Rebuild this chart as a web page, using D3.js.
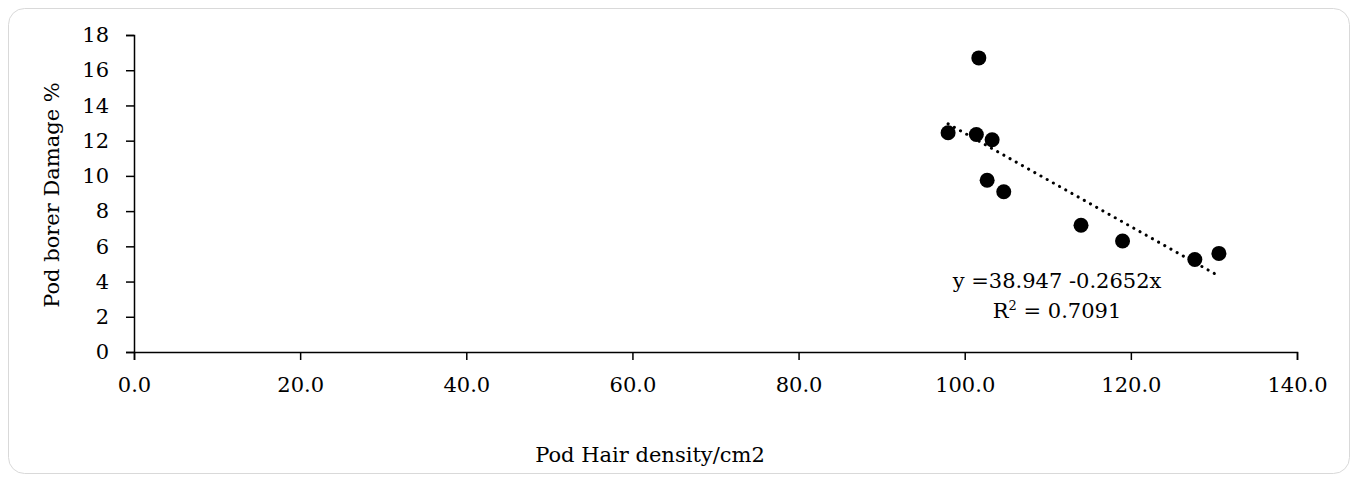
<!DOCTYPE html>
<html>
<head>
<meta charset="utf-8">
<script src="https://cdn.jsdelivr.net/npm/d3@7"></script>
<style>
  body { margin: 0; background: #fff; }
  svg text { font-family: "DejaVu Serif", serif; fill: #000; }
</style>
</head>
<body>
<svg id="chart" width="1359" height="481"></svg>
<script>
// Pod hair density (x) vs pod borer damage (y)
var hairDensity = [98.0, 101.7, 101.4, 103.3, 102.7, 104.7, 114.0, 119.0, 127.7, 130.6];
var borerDamage = [12.45, 16.7, 12.35, 12.05, 9.75, 9.1, 7.2, 6.3, 5.25, 5.6];

var xTicks = [0, 20, 40, 60, 80, 100, 120, 140];
var yTicks = [0, 2, 4, 6, 8, 10, 12, 14, 16, 18];

// trendline as printed on the chart
var intercept = 38.947, slope = -0.2652, rSquared = 0.7091;

var svg = d3.select("#chart");

svg.append("rect")
  .attr("x", 8.5).attr("y", 8.5)
  .attr("width", 1341).attr("height", 465)
  .attr("rx", 16)
  .attr("fill", "#fff")
  .attr("stroke", "#d9d9d9");

var x = d3.scaleLinear().domain([0, 140]).range([134, 1297]);
var y = d3.scaleLinear().domain([0, 18]).range([352, 35]);

var fs = "21px";

var yAxis = svg.append("g")
  .attr("transform", "translate(" + x(0) + ",0)")
  .call(d3.axisLeft(y).tickValues(yTicks).tickSize(8).tickPadding(17).tickFormat(d3.format("d")));

var xAxis = svg.append("g")
  .attr("transform", "translate(0," + y(0) + ")")
  .call(d3.axisBottom(x).tickValues(xTicks).tickSize(8).tickPadding(17).tickFormat(d3.format(".1f")));

[xAxis, yAxis].forEach(function(g) {
  g.select(".domain").attr("stroke", "#000").attr("stroke-width", 1.5);
  g.selectAll(".tick line").attr("stroke", "#000").attr("stroke-width", 1.5);
  g.selectAll(".tick text").style("font-family", "DejaVu Serif").style("font-size", fs).attr("fill", "#000");
});

var data = hairDensity.map(function(d, i) { return { x: d, y: borerDamage[i] }; });

svg.append("g").selectAll("circle")
  .data(data)
  .enter()
  .append("circle")
  .attr("cx", function(d) { return x(d.x); })
  .attr("cy", function(d) { return y(d.y); })
  .attr("r", 7.5)
  .attr("fill", "#000");

var xExt = d3.extent(hairDensity);
svg.append("line")
  .attr("x1", x(xExt[0])).attr("y1", y(intercept + slope * xExt[0]))
  .attr("x2", x(xExt[1])).attr("y2", y(intercept + slope * xExt[1]))
  .attr("stroke", "#000")
  .attr("stroke-width", 3)
  .attr("stroke-linecap", "round")
  .attr("stroke-dasharray", "0.1 7");

svg.append("text")
  .attr("x", 1057).attr("y", 288)
  .attr("text-anchor", "middle")
  .style("font-size", fs)
  .text("y =" + intercept + " " + slope + "x");

var r2 = svg.append("text")
  .attr("x", 1057).attr("y", 318)
  .attr("text-anchor", "middle")
  .style("font-size", fs);
r2.append("tspan").text("R");
r2.append("tspan").attr("dy", -8).style("font-size", "13px").text("2");
r2.append("tspan").attr("dy", 8).text(" = " + rSquared);

svg.append("text")
  .attr("transform", "translate(59,195) rotate(-90)")
  .attr("text-anchor", "middle")
  .style("font-size", fs)
  .text("Pod borer Damage %");

svg.append("text")
  .attr("x", 650).attr("y", 462)
  .attr("text-anchor", "middle")
  .style("font-size", fs)
  .text("Pod Hair density/cm2");
</script>
</body>
</html>
